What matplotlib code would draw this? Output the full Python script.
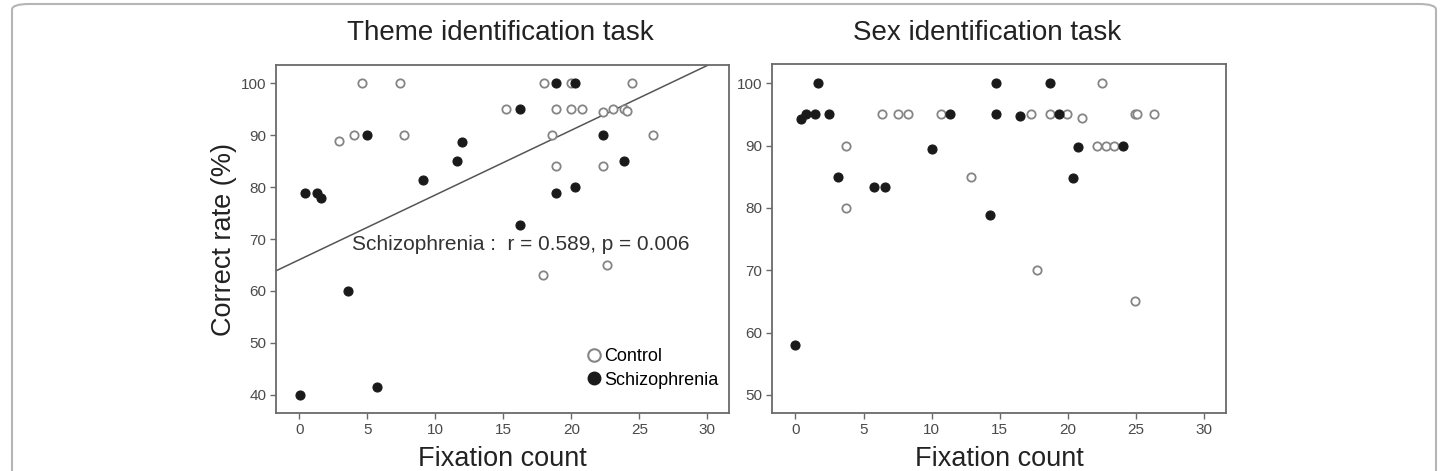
import matplotlib
matplotlib.use('Agg')
import matplotlib.pyplot as plt
from matplotlib.lines import Line2D
from matplotlib.patches import FancyBboxPatch

plt.rcParams['font.family'] = ['Liberation Sans', 'DejaVu Sans']

# Theme identification task
theme_ctrl_x = [4.6, 7.4, 2.9, 4.0, 7.7, 18.0, 20.0, 24.5, 15.2, 18.9, 20.0, 20.8,
                22.3, 23.1, 23.9, 24.1, 18.6, 26.0, 18.9, 22.3, 17.9, 22.6]
theme_ctrl_y = [100, 100, 88.8, 90, 90, 100, 100, 100, 95, 95, 95, 95,
                94.5, 95, 95, 94.6, 90, 90, 84.1, 84.1, 63.1, 65]
theme_scz_x = [0.05, 0.4, 1.3, 1.6, 3.6, 5.0, 5.7, 9.1, 11.6, 12.0, 16.2, 16.2,
               18.9, 18.9, 20.25, 20.3, 22.3, 23.9]
theme_scz_y = [40, 78.9, 78.9, 77.8, 59.9, 90.1, 41.6, 81.3, 85, 88.7, 95, 72.75,
               100, 78.9, 100, 80, 90, 85]
fit_intercept = 66.0
fit_slope = 1.247

# Sex identification task
sex_ctrl_x = [3.73, 3.73, 6.33, 7.56, 8.27, 10.7, 12.9, 17.3, 17.75, 18.65, 19.95,
              21.06, 22.1, 22.46, 22.8, 23.4, 24.93, 24.93, 25.1, 26.3]
sex_ctrl_y = [90, 80, 95, 95, 95, 95, 85, 95, 70, 95, 95,
              94.5, 90, 100, 90, 90, 95, 65, 95, 95]
sex_scz_x = [0, 0.44, 0.76, 1.42, 1.66, 2.47, 3.09, 5.79, 6.58, 10.04, 11.36,
             14.26, 14.7, 14.75, 16.5, 18.7, 19.34, 20.35, 20.7, 24.05]
sex_scz_y = [58, 94.2, 95, 95, 100, 95, 84.9, 83.3, 83.3, 89.4, 95,
             78.9, 100, 95, 94.8, 100, 95, 84.8, 89.8, 90]

xticks = [0, 5, 10, 15, 20, 25, 30]

fig = plt.figure(figsize=(14.46, 4.71), dpi=100)

# outer rounded frame
frame = FancyBboxPatch((12 / 1446, 1 - 480 / 471), 1424 / 1446, 476 / 471,
                       boxstyle="round,pad=0,rounding_size=0.012",
                       transform=fig.transFigure, fill=False,
                       edgecolor='#b5b5b5', linewidth=1.5, clip_on=False)
fig.patches.append(frame)

ax1 = fig.add_axes([0.1909, 0.1231, 0.3133, 0.7389])
ax2 = fig.add_axes([0.5341, 0.1225, 0.3138, 0.7410])

def style(ax):
  for s in ax.spines.values():
    s.set_color('#6a6a6a')
    s.set_linewidth(1.3)
  ax.tick_params(direction='out', length=4, width=1, color='#6a6a6a',
                 labelsize=11, labelcolor='#4a4a4a', pad=3)
  ax.set_xticks(xticks)
  ax.set_xlim(-1.7, 31.6)

open_kw = dict(marker='o', linestyle='none', markersize=6, markerfacecolor='white',
               markeredgecolor='#858585', markeredgewidth=1.3)
fill_kw = dict(marker='o', linestyle='none', markersize=6.5, markerfacecolor='#1a1a1a',
               markeredgecolor='#1a1a1a', markeredgewidth=0.8)

# left panel
style(ax1)
ax1.set_ylim(36.5, 103.5)
ax1.set_yticks([40, 50, 60, 70, 80, 90, 100])
ax1.axline((0, fit_intercept), slope=fit_slope, color='#555555', linewidth=1.1, zorder=1)
ax1.plot(theme_ctrl_x, theme_ctrl_y, zorder=3, **open_kw)
ax1.plot(theme_scz_x, theme_scz_y, zorder=4, **fill_kw)
ax1.text(3.86, 69.0, 'Schizophrenia :  r = 0.589, p = 0.006', fontsize=15,
         color='#333333', ha='left', va='center')
ax1.set_xlabel('Fixation count', fontsize=19.5, color='#222222', labelpad=6.5)
ax1.set_ylabel('Correct rate (%)', fontsize=19.5, color='#222222', labelpad=3)

handles = [Line2D([], [], marker='o', linestyle='none', markersize=9, markerfacecolor='white',
                  markeredgecolor='#858585', markeredgewidth=1.5),
           Line2D([], [], marker='o', linestyle='none', markersize=9, markerfacecolor='#1a1a1a',
                  markeredgecolor='#1a1a1a')]
ax1.legend(handles, ['Control', 'Schizophrenia'], loc='lower right', frameon=False,
           fontsize=13, handletextpad=0.05, handlelength=1.0, labelspacing=0.35,
           bbox_to_anchor=(0.977, 0.07), borderaxespad=0, borderpad=0)

# right panel
style(ax2)
ax2.set_ylim(47.06, 103.05)
ax2.set_yticks([50, 60, 70, 80, 90, 100])
ax2.plot(sex_ctrl_x, sex_ctrl_y, zorder=3, **open_kw)
ax2.plot(sex_scz_x, sex_scz_y, zorder=4, **fill_kw)
ax2.set_xlabel('Fixation count', fontsize=19.5, color='#222222', labelpad=6.5)

fig.text(500 / 1446, 1 - 33 / 471, 'Theme identification task', fontsize=20,
         color='#222222', ha='center', va='center')
fig.text(987 / 1446, 1 - 33 / 471, 'Sex identification task', fontsize=20,
         color='#222222', ha='center', va='center')

fig.savefig('out.png', dpi=100)
